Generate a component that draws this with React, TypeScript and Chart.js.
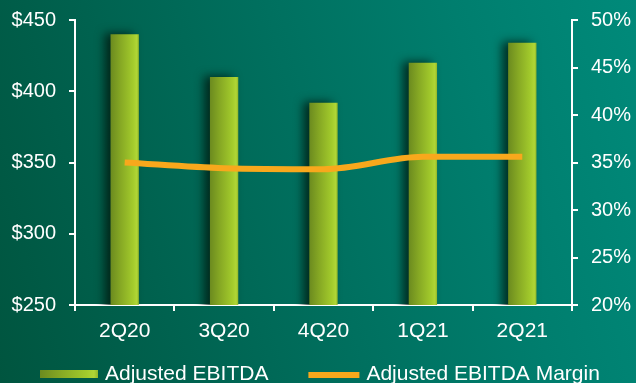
import React, { useEffect, useRef } from "react";
import { Chart, registerables } from "chart.js";

Chart.register(...registerables);

const quarters = ["2Q20", "3Q20", "4Q20", "1Q21", "2Q21"];
const ebitda = [440, 410, 392, 420, 434];
const ebitdaMargin = [35.0, 34.4, 34.3, 35.6, 35.6];
const leftTicks = { min: 250, max: 450, step: 50 };
const rightTicks = { min: 20, max: 50, step: 5 };

const FONT = "'Liberation Sans', Arial, Helvetica, sans-serif";
const BAR_W = 28;

function barGradient(ctx: CanvasRenderingContext2D, x0: number, x1: number) {
  const g = ctx.createLinearGradient(x0, 0, x1, 0);
  g.addColorStop(0, "#6c8b1f");
  g.addColorStop(0.35, "#86a824");
  g.addColorStop(0.8, "#a3cb2c");
  g.addColorStop(0.93, "#b0d636");
  g.addColorStop(1, "#93b82a");
  return g;
}

// soft dark halo on the left of each bar
const barShadow = {
  id: "barShadow",
  beforeDatasetDraw(chart: any, args: any) {
    if (chart.data.datasets[args.index].type !== "bar") return;
    const ctx = chart.ctx;
    ctx.save();
    ctx.shadowColor = "rgba(0, 20, 10, 0.75)";
    ctx.shadowBlur = 10;
    ctx.shadowOffsetX = -6;
    ctx.shadowOffsetY = -1;
  },
  afterDatasetDraw(chart: any, args: any) {
    if (chart.data.datasets[args.index].type !== "bar") return;
    chart.ctx.restore();
  },
};

// legend row under the x axis
const legendRow = {
  id: "legendRow",
  afterDraw(chart: any) {
    const ctx = chart.ctx as CanvasRenderingContext2D;
    const ds = chart.data.datasets;
    ctx.save();
    ctx.font = `21px ${FONT}`;
    ctx.textBaseline = "alphabetic";
    const baseline = 380;
    let x = 40;
    // bar item
    ctx.fillStyle = barGradient(ctx, x, x + 58);
    ctx.fillRect(x, 370, 58, 8);
    ctx.fillStyle = "#ffffff";
    ctx.fillText(ds[1].label, x + 65, baseline);
    x = x + 65 + ctx.measureText(ds[1].label).width + 40;
    // line item
    ctx.fillStyle = "#f8a81c";
    ctx.fillRect(x, 372, 51, 6);
    ctx.fillStyle = "#ffffff";
    ctx.fillText(ds[0].label, x + 58, baseline);
    ctx.restore();
  },
};

const fixWidth = (w: number) => (s: any) => {
  s.width = w;
  s.paddingTop = 0;
  s.paddingBottom = 0;
};

export default function App() {
  const ref = useRef<HTMLCanvasElement | null>(null);

  useEffect(() => {
    if (!ref.current) return;
    const chart = new Chart(ref.current, {
      data: {
        labels: quarters,
        datasets: [
          {
            type: "line",
            label: "Adjusted EBITDA Margin",
            data: ebitdaMargin,
            yAxisID: "y1",
            borderColor: "#f8a81c",
            borderWidth: 6,
            borderCapStyle: "butt",
            pointRadius: 0,
            cubicInterpolationMode: "monotone",
            order: 0,
          },
          {
            type: "bar",
            label: "Adjusted EBITDA",
            data: ebitda,
            yAxisID: "y",
            order: 1,
            barPercentage: 0.285,
            categoryPercentage: 1,
            borderWidth: 0,
            backgroundColor: (c: any) => {
              const chart = c.chart;
              const xs = chart.scales?.x;
              if (!xs || c.dataIndex == null) return "#9cc42a";
              const cx = xs.getPixelForValue(c.dataIndex);
              if (!Number.isFinite(cx)) return "#9cc42a";
              return barGradient(chart.ctx, cx - BAR_W / 2, cx + BAR_W / 2);
            },
          },
        ],
      } as any,
      options: {
        responsive: false,
        animation: false,
        devicePixelRatio: 1,
        layout: { padding: { top: 20, left: 0, right: 0, bottom: 0 } },
        plugins: {
          legend: { display: false },
          tooltip: { enabled: false },
        },
        scales: {
          x: {
            afterFit: (s: any) => {
              s.height = 78;
              s.paddingLeft = 0;
              s.paddingRight = 0;
            },
            border: { display: true, color: "#ffffff", width: 2 },
            grid: {
              display: true,
              offset: true,
              drawOnChartArea: false,
              drawTicks: true,
              tickLength: 6,
              color: "#ffffff",
              lineWidth: 2,
            },
            ticks: {
              color: "#ffffff",
              font: { family: FONT, size: 21 },
              padding: 8,
              maxRotation: 0,
            },
          },
          y: {
            position: "left",
            min: leftTicks.min,
            max: leftTicks.max,
            afterFit: fixWidth(75),
            border: { display: true, color: "#ffffff", width: 2 },
            grid: {
              display: true,
              drawOnChartArea: false,
              drawTicks: true,
              tickLength: 6,
              color: "#ffffff",
              lineWidth: 2,
            },
            ticks: {
              stepSize: leftTicks.step,
              color: "#ffffff",
              font: { family: FONT, size: 20 },
              padding: 13,
              callback: (v: any) => "$" + v,
            },
          },
          y1: {
            position: "right",
            min: rightTicks.min,
            max: rightTicks.max,
            afterFit: fixWidth(64),
            border: { display: true, color: "#ffffff", width: 2 },
            grid: {
              display: true,
              drawOnChartArea: false,
              drawTicks: true,
              tickLength: 6,
              color: "#ffffff",
              lineWidth: 2,
            },
            ticks: {
              stepSize: rightTicks.step,
              color: "#ffffff",
              font: { family: FONT, size: 20 },
              padding: 13,
              callback: (v: any) => v + "%",
            },
          },
        },
      } as any,
      plugins: [barShadow, legendRow],
    });
    return () => chart.destroy();
  }, []);

  return (
    <div
      style={{
        position: "absolute",
        left: 0,
        top: 0,
        width: 636,
        height: 383,
        overflow: "hidden",
        background:
          "linear-gradient(75deg, #00553f 0%, #00624f 25%, #00705f 50%, #007e6e 75%, #008a7a 100%)",
      }}
    >
      <canvas ref={ref} width={636} height={383} style={{ display: "block" }} />
    </div>
  );
}
